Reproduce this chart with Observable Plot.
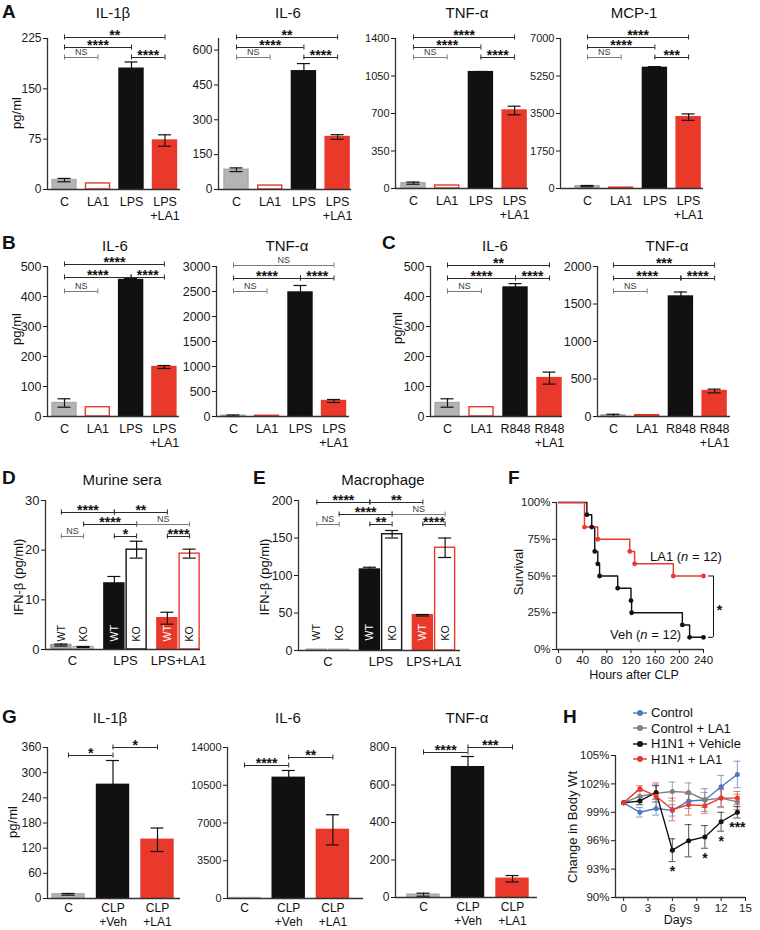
<!DOCTYPE html>
<html><head><meta charset="utf-8">
<script src="https://cdn.jsdelivr.net/npm/d3@7"></script>
<script src="https://cdn.jsdelivr.net/npm/@observablehq/plot@0.6"></script>
<style>
body{margin:0;background:#fff;}
#fig{position:relative;width:760px;height:930px;font-family:"Liberation Sans",Arial,Helvetica,sans-serif;color:#111;overflow:hidden;background:#fff}
.t{position:absolute;white-space:nowrap;transform:translate(-50%,-50%);font-size:15px;}
.yl{position:absolute;white-space:nowrap;transform:translate(-50%,-50%) rotate(-90deg);font-size:13px;}
.lt{position:absolute;white-space:nowrap;transform:translate(0,-50%);font-size:13px;}
.L{position:absolute;font-weight:bold;font-size:19px;transform:translate(0,-50%);}
</style></head><body><div id="fig"></div><script>
// ================= DATA =================
const catsLPS = ["C", "LA1", "LPS", "LPS\n+LA1"];
const catsR848 = ["C", "LA1", "R848", "R848\n+LA1"];
const catsCLP = ["C", "CLP\n+Veh", "CLP\n+LA1"];
const groupsIFN = ["C", "LPS", "LPS+LA1"];
const genotypes = ["WT", "KO"];

// Panel A
const a_il1b = [14, 9, 180, 73], a_il1b_err = [2.5, 0, 10, 8.5], a_il1b_ticks = [0, 75, 150, 225];
const a_il6 = [85, 17, 509, 226], a_il6_err = [8, 0, 33, 10], a_il6_ticks = [0, 150, 300, 450, 600];
const a_tnf = [50, 28, 1086, 728], a_tnf_err = [10, 0, 6, 40], a_tnf_ticks = [0, 350, 700, 1050, 1400];
const a_mcp1 = [110, 40, 5630, 3330], a_mcp1_err = [30, 0, 60, 150], a_mcp1_ticks = [0, 1750, 3500, 5250, 7000];
// Panel B
const b_il6 = [45, 31, 455, 165], b_il6_err = [14, 0, 5, 5], b_il6_ticks = [0, 100, 200, 300, 400, 500];
const b_tnf = [15, 15, 2480, 310], b_tnf_err = [15, 0, 140, 30], b_tnf_ticks = [0, 500, 1000, 1500, 2000, 2500, 3000];
// Panel C
const c_il6 = [45, 31, 430, 128], c_il6_err = [14, 0, 13, 20], c_il6_ticks = [0, 100, 200, 300, 400, 500];
const c_tnf = [15, 18, 1600, 340], c_tnf_err = [15, 0, 60, 25], c_tnf_ticks = [0, 500, 1000, 1500, 2000];
// Panel D (murine sera IFN-β), per group: WT and KO
const d_wt = [0.9, 13.3, 6.3], d_wt_err = [0.2, 1.4, 1.2];
const d_ko = [0.5, 20.1, 19.3], d_ko_err = [0.1, 1.7, 0.9];
const d_ticks = [0, 10, 20, 30];
// Panel E (macrophage IFN-β)
const e_wt = [1, 108, 47], e_wt_err = [0, 3, 1];
const e_ko = [1, 155, 137], e_ko_err = [0, 5, 13];
const e_ticks = [0, 50, 100, 150, 200];
// Panel F (survival)
const f_veh_t = [0, 47, 55, 60, 65, 68, 98, 120, 121, 205, 217, 240];
const f_veh_s = [100, 91.7, 83.3, 66.7, 58.3, 50, 41.7, 33.3, 25, 16.7, 8.3, 8.3];
const f_la1_t = [0, 43, 65, 118, 126, 190, 240];
const f_la1_s = [100, 83.3, 75, 66.7, 58.3, 50, 50];
const f_xticks = [0, 40, 80, 120, 160, 200, 240], f_yticks = [0, 25, 50, 75, 100];
// Panel G
const g_il1b = [10, 271, 140], g_il1b_err = [2, 58, 28], g_il1b_ticks = [0, 60, 120, 180, 240, 300, 360];
const g_il6 = [40, 11190, 6365], g_il6_err = [0, 680, 1400], g_il6_ticks = [0, 3500, 7000, 10500, 14000];
const g_tnf = [15, 695, 100], g_tnf_err = [8, 57, 17], g_tnf_ticks = [0, 200, 400, 600, 800];
// Panel H (body weight)
const h_days = [0, 2, 4, 6, 8, 10, 12, 14];
const h_names = ["Control", "Control + LA1", "H1N1 + Vehicle", "H1N1 + LA1"];
const h_ctrl = [100, 99.0, 99.4, 99.2, 100.2, 100.3, 101.7, 103.0], h_ctrl_err = [0, 0.5, 0.7, 0.6, 0.8, 1.2, 1.2, 1.4];
const h_ctrlLA1 = [100, 100.7, 101.0, 101.2, 101.1, 100.3, 100.5, 100.1], h_ctrlLA1_err = [0, 0.6, 0.9, 1.0, 1.0, 0.8, 1.0, 0.8];
const h_veh = [100, 100.2, 101.1, 95.0, 96.0, 96.4, 98.0, 99.0], h_veh_err = [0, 0.4, 0.7, 1.2, 1.7, 1.2, 1.0, 0.6];
const h_la1 = [100, 101.5, 100.7, 99.3, 99.8, 99.7, 100.5, 100.5], h_la1_err = [0, 0.3, 1.4, 1.2, 1.1, 0.8, 0.9, 0.7];
const h_xticks = [0, 3, 6, 9, 12, 15], h_yticks = [90, 93, 96, 99, 102, 105];
const h_sig = [[6, "*"], [10, "*"], [12, "*"], [14, "***"]];

// significance comparisons: [barA, barB, label, row]
const sig_a_il1b = [[0, 3, "**", 0], [0, 2, "****", 1], [0, 1, "NS", 2], [2, 3, "****", 2]];
const sig_a_il6 = [[0, 3, "**", 0], [0, 2, "****", 1], [0, 1, "NS", 2], [2, 3, "****", 2]];
const sig_a_tnf = [[0, 3, "****", 0], [0, 2, "****", 1], [0, 1, "NS", 2], [2, 3, "****", 2]];
const sig_a_mcp1 = [[0, 3, "****", 0], [0, 2, "****", 1], [0, 1, "NS", 2], [2, 3, "***", 2]];
const sig_b_il6 = [[0, 3, "****", 0], [0, 2, "****", 1], [2, 3, "****", 1], [0, 1, "NS", 2]];
const sig_b_tnf = [[0, 3, "NS", 0], [0, 2, "****", 1], [2, 3, "****", 1], [0, 1, "NS", 2]];
const sig_c_il6 = [[0, 3, "**", 0], [0, 2, "****", 1], [2, 3, "****", 1], [0, 1, "NS", 2]];
const sig_c_tnf = [[0, 3, "***", 0], [0, 2, "****", 1], [2, 3, "****", 1], [0, 1, "NS", 2]];
const sig_d = [[0, 2, "****", 0], [2, 4, "**", 0], [1, 3, "****", 1], [3, 5, "NS", 1], [0, 1, "NS", 2], [2, 3, "*", 2], [4, 5, "****", 2]];
const sig_e = [[0, 2, "****", 0], [2, 4, "**", 0], [1, 3, "****", 1], [3, 5, "NS", 1], [0, 1, "NS", 2], [2, 3, "**", 2], [4, 5, "****", 2]];
const sig_g_il1b = [[1, 2, "*", 0], [0, 1, "*", 1]];
const sig_g_il6 = [[1, 2, "**", 0], [0, 1, "****", 1]];
const sig_g_tnf = [[1, 2, "***", 0], [0, 1, "****", 1]];

// ================= STYLE / LAYOUT =================
const FONT = '"Liberation Sans", Arial, Helvetica, sans-serif';
const RED = "#e8392b", GRAY = "#b4b4b4", BLACK = "#111111", BLUE = "#4a7bc4", DGRAY = "#808080";
const styleLPS = [{fill: GRAY, stroke: "#a8a8a8"}, {fill: "#ffffff", stroke: RED}, {fill: BLACK, stroke: BLACK}, {fill: RED, stroke: RED}];
const styleCLP = [{fill: GRAY, stroke: "#a8a8a8"}, {fill: BLACK, stroke: BLACK}, {fill: RED, stroke: RED}];
const styleIFN = [
  [{fill: "#a9a9a9", stroke: "#999", lc: "#111"}, {fill: "#dcdcdc", stroke: "#aaa", lc: "#111"}],
  [{fill: BLACK, stroke: BLACK, lc: "#fff"}, {fill: "#fff", stroke: BLACK, lc: "#111"}],
  [{fill: RED, stroke: RED, lc: "#fff"}, {fill: "#fff", stroke: RED, lc: "#111"}]
];
const LAY = {
  a1: {axis: 47, x0: 64, step: 33.5, end: 180, top: 38, bottom: 189, bw: 24, rows: [37, 47, 57]},
  a2: {axis: 218, x0: 236, step: 33.7, end: 351, top: 38, bottom: 189, bw: 24, rows: [37, 47, 57]},
  a3: {axis: 395, x0: 413, step: 33.7, end: 528, top: 38, bottom: 188, bw: 24, rows: [37, 47, 57]},
  a4: {axis: 560, x0: 587, step: 33.7, end: 703, top: 38, bottom: 188, bw: 24, rows: [37, 47, 57]},
  b1: {axis: 47, x0: 64, step: 33.3, end: 179, top: 266, bottom: 416, bw: 24, rows: [264, 277, 291]},
  b2: {axis: 216, x0: 233, step: 33.5, end: 349, top: 266, bottom: 416, bw: 24, rows: [265, 278, 291]},
  c1: {axis: 430, x0: 447, step: 34, end: 562, top: 266, bottom: 416, bw: 24, rows: [265, 278, 291]},
  c2: {axis: 597, x0: 613, step: 33.7, end: 730, top: 266, bottom: 416, bw: 24, rows: [265, 278, 291]},
  d: {axis: 45, x0: 72, step: 53, end: 200, top: 500, bottom: 649, bw: 20, rows: [512, 524, 536]},
  e: {axis: 298, x0: 327.5, step: 53, end: 460, top: 500, bottom: 650, bw: 20, rows: [502, 514, 524]},
  g1: {axis: 47, x0: 68, step: 44.5, end: 180, top: 747, bottom: 898, bw: 32, rows: [747, 755]},
  g2: {axis: 227, x0: 244, step: 44.2, end: 363, top: 747, bottom: 898, bw: 32, rows: [757, 765]},
  g3: {axis: 395, x0: 423, step: 44.5, end: 537, top: 747, bottom: 897, bw: 32, rows: [747, 752]}
};

const fig = document.getElementById("fig");
function html(cls, txt, x, y, size) {
  const d = document.createElement("div");
  d.className = cls; d.style.left = x + "px"; d.style.top = y + "px";
  if (size) d.style.fontSize = size + "px";
  d.innerHTML = txt; fig.append(d);
}
function place(svg, left, top) {
  svg.style.position = "absolute"; svg.style.left = left + "px"; svg.style.top = top + "px";
  fig.append(svg);
}
const baseStyle = fs => ({background: "transparent", fontFamily: FONT, fontSize: fs + "px", color: "#1a1a1a", overflow: "visible"});

function barChart({L, ymax, ticks, bars, xlabels, sig, fs = 12, lfs = 12.5, ldy = 6, lh = 1.15, extra = () => []}) {
  const mL = 50, mR = 20, mT = 50, mB = 32;
  const plotW = L.end - L.axis, plotH = L.bottom - L.top;
  const xa = (L.axis - L.x0) / L.step, xb = (L.end - L.x0) / L.step;
  const hw = L.bw / 2 / L.step, cw = 6.5 / L.step;
  const ypp = ymax / plotH;
  const br = sig.map(([a, b, t, r]) => ({x1: bars[a].x, x2: bars[b].x, y: (L.bottom - L.rows[r]) * ypp, t, ns: t === "NS"}));
  const ends = br.flatMap(d => [{x: d.x1, y: d.y, ns: d.ns}, {x: d.x2, y: d.y, ns: d.ns}]);
  const tk = 2.5 * ypp;
  const eb = bars.filter(d => d.e > 0);
  const svg = Plot.plot({
    width: plotW + mL + mR, height: plotH + mT + mB,
    marginLeft: mL, marginRight: mR, marginTop: mT, marginBottom: mB,
    style: baseStyle(fs),
    x: {domain: [xa, xb], axis: null},
    y: {domain: [0, ymax], ticks, tickSize: 4, tickPadding: 2, tickFormat: d => String(d), label: null},
    color: {type: "identity"},
    marks: [
      Plot.rect(bars, {x1: d => d.x - hw, x2: d => d.x + hw, y1: () => 0, y2: "v", fill: "fill", stroke: "stroke", strokeWidth: 1.4}),
      Plot.ruleX(eb, {x: "x", y1: d => d.v - d.e, y2: d => d.v + d.e, stroke: "#111", strokeWidth: 1.2}),
      Plot.ruleY(eb, {y: d => d.v + d.e, x1: d => d.x - cw, x2: d => d.x + cw, stroke: "#111", strokeWidth: 1.2}),
      Plot.ruleY(eb, {y: d => d.v - d.e, x1: d => d.x - cw, x2: d => d.x + cw, stroke: "#111", strokeWidth: 1.2}),
      Plot.ruleX([xa], {stroke: "#333", strokeWidth: 1.3}),
      Plot.ruleY([0], {stroke: "#333", strokeWidth: 1.3}),
      Plot.ruleY(br, {y: "y", x1: "x1", x2: "x2", stroke: d => d.ns ? "#7a7a7a" : "#2a2a2a", strokeWidth: 1}),
      Plot.ruleX(ends, {x: "x", y1: d => d.y - tk, y2: d => d.y + tk, stroke: d => d.ns ? "#7a7a7a" : "#2a2a2a", strokeWidth: 1}),
      Plot.text(br.filter(d => !d.ns), {x: d => (d.x1 + d.x2) / 2, y: "y", text: "t", fontSize: 14, fontWeight: "bold", lineAnchor: "middle", dy: -1.5, fill: "#111"}),
      Plot.text(br.filter(d => d.ns), {x: d => (d.x1 + d.x2) / 2, y: "y", text: "t", fontSize: 9, lineAnchor: "middle", dy: -5.5, fill: "#3a3a3a"}),
      Plot.text(xlabels, {x: "x", y: () => 0, text: "t", lineAnchor: "top", dy: ldy, fontSize: lfs, lineHeight: lh, fill: "#111"}),
      ...extra(ypp)
    ]
  });
  place(svg, L.axis - mL, L.top - mT);
}

function simpleBars(vals, errs, styles) {
  return vals.map((v, i) => ({x: i, v, e: errs[i], fill: styles[i].fill, stroke: styles[i].stroke}));
}
function catLabels(cats) { return cats.map((t, i) => ({x: i, t})); }
function ifnBars(wt, wtE, ko, koE) {
  const out = [];
  groupsIFN.forEach((g, gi) => {
    [[wt, wtE], [ko, koE]].forEach(([vals, errs], k) => {
      const s = styleIFN[gi][k];
      out.push({x: gi + (k === 0 ? -0.21 : 0.21), v: vals[gi], e: errs[gi], fill: s.fill, stroke: s.stroke, lab: genotypes[k], lc: s.lc});
    });
  });
  return out;
}

// ---------- Panel A ----------
barChart({L: LAY.a1, ymax: 225, ticks: a_il1b_ticks, bars: simpleBars(a_il1b, a_il1b_err, styleLPS), xlabels: catLabels(catsLPS), sig: sig_a_il1b});
barChart({L: LAY.a2, ymax: 650, ticks: a_il6_ticks, bars: simpleBars(a_il6, a_il6_err, styleLPS), xlabels: catLabels(catsLPS), sig: sig_a_il6});
barChart({L: LAY.a3, ymax: 1400, ticks: a_tnf_ticks, bars: simpleBars(a_tnf, a_tnf_err, styleLPS), xlabels: catLabels(catsLPS), sig: sig_a_tnf, fs: 11});
barChart({L: LAY.a4, ymax: 7000, ticks: a_mcp1_ticks, bars: simpleBars(a_mcp1, a_mcp1_err, styleLPS), xlabels: catLabels(catsLPS), sig: sig_a_mcp1, fs: 11});
// ---------- Panel B ----------
barChart({L: LAY.b1, ymax: 500, ticks: b_il6_ticks, bars: simpleBars(b_il6, b_il6_err, styleLPS), xlabels: catLabels(catsLPS), sig: sig_b_il6, fs: 12.5});
barChart({L: LAY.b2, ymax: 3000, ticks: b_tnf_ticks, bars: simpleBars(b_tnf, b_tnf_err, styleLPS), xlabels: catLabels(catsLPS), sig: sig_b_tnf, fs: 12.5});
// ---------- Panel C ----------
barChart({L: LAY.c1, ymax: 500, ticks: c_il6_ticks, bars: simpleBars(c_il6, c_il6_err, styleLPS), xlabels: catLabels(catsR848), sig: sig_c_il6, fs: 12.5});
barChart({L: LAY.c2, ymax: 2000, ticks: c_tnf_ticks, bars: simpleBars(c_tnf, c_tnf_err, styleLPS), xlabels: catLabels(catsR848), sig: sig_c_tnf, fs: 12.5});
// ---------- Panels D, E ----------
const wtkoMarks = dyPx => bars => () => [
  Plot.text(bars, {x: "x", y: () => 0, text: "lab", rotate: -90, textAnchor: "start", lineAnchor: "middle", dy: dyPx, fontSize: 10.5, fill: "lc"})
];
const dBars = ifnBars(d_wt, d_wt_err, d_ko, d_ko_err);
barChart({L: LAY.d, ymax: 30, ticks: d_ticks, bars: dBars, xlabels: catLabels(groupsIFN), sig: sig_d, fs: 13, lfs: 13, ldy: 5, extra: wtkoMarks(-8)(dBars)});
const eBars = ifnBars(e_wt, e_wt_err, e_ko, e_ko_err);
barChart({L: LAY.e, ymax: 200, ticks: e_ticks, bars: eBars, xlabels: catLabels(groupsIFN), sig: sig_e, fs: 12.5, lfs: 13, ldy: 5, extra: wtkoMarks(-10)(eBars)});
// ---------- Panel G ----------
barChart({L: LAY.g1, ymax: 360, ticks: g_il1b_ticks, bars: simpleBars(g_il1b, g_il1b_err, styleCLP), xlabels: catLabels(catsCLP), sig: sig_g_il1b, lfs: 12, ldy: 4.5, lh: 1.1});
barChart({L: LAY.g2, ymax: 14000, ticks: g_il6_ticks, bars: simpleBars(g_il6, g_il6_err, styleCLP), xlabels: catLabels(catsCLP), sig: sig_g_il6, fs: 11, lfs: 12, ldy: 4.5, lh: 1.1});
barChart({L: LAY.g3, ymax: 800, ticks: g_tnf_ticks, bars: simpleBars(g_tnf, g_tnf_err, styleCLP), xlabels: catLabels(catsCLP), sig: sig_g_tnf, lfs: 12, ldy: 4.5, lh: 1.1});

// ---------- Panel F (Kaplan-Meier) ----------
(function () {
  const L = {axis: 556, end: 703, top: 502, bottom: 649};
  const xa = -3.3, xb = 240;
  const mL = 50, mR = 40, mT = 10, mB = 26;
  const xpp = (xb - xa) / (L.end - L.axis);
  const pts = [
    ...f_veh_t.map((t, i) => ({t, s: f_veh_s[i], g: "Veh", c: BLACK})),
    ...f_la1_t.map((t, i) => ({t, s: f_la1_s[i], g: "LA1", c: RED}))
  ];
  const endVeh = f_veh_s[f_veh_s.length - 1], endLA1 = f_la1_s[f_la1_s.length - 1];
  const tMax = f_veh_t[f_veh_t.length - 1];
  const bx = tMax + 10 * xpp, bt = tMax + 5 * xpp;
  const svg = Plot.plot({
    width: L.end - L.axis + mL + mR, height: L.bottom - L.top + mT + mB,
    marginLeft: mL, marginRight: mR, marginTop: mT, marginBottom: mB,
    style: baseStyle(11.5),
    x: {domain: [xa, xb], ticks: f_xticks, tickSize: 4, tickPadding: 2, label: null},
    y: {domain: [0, 100], ticks: f_yticks, tickSize: 4, tickPadding: 2, tickFormat: d => d + "%", label: null},
    color: {type: "identity"},
    marks: [
      Plot.ruleX([xa], {stroke: "#333", strokeWidth: 1.3}),
      Plot.ruleY([0], {stroke: "#333", strokeWidth: 1.3}),
      Plot.line(pts, {x: "t", y: "s", z: "g", stroke: "c", curve: "step-after", strokeWidth: 1.4}),
      Plot.dot(pts.filter(d => d.t > 0), {x: "t", y: "s", fill: "c", r: 2.4}),
      Plot.ruleX([bx], {y1: () => endVeh, y2: () => endLA1, stroke: "#111", strokeWidth: 1}),
      Plot.ruleY([endVeh, endLA1], {y: d => d, x1: () => bt, x2: () => bx, stroke: "#111", strokeWidth: 1}),
      Plot.text(["*"], {x: () => tMax + 16 * xpp, y: () => (endVeh + endLA1) / 2, text: d => d, fontSize: 14, fontWeight: "bold", lineAnchor: "middle", dy: 4, fill: "#111"})
    ]
  });
  place(svg, L.axis - mL, L.top - mT);
})();

// ---------- Panel H (body weight) ----------
(function () {
  const L = {axis: 615, end: 745, top: 755, bottom: 897};
  const xa = -1, xb = 15;
  const mL = 50, mR = 14, mT = 10, mB = 22;
  const xpp = (xb - xa) / (L.end - L.axis);
  const cw = 3.5 * xpp;
  const vals = [h_ctrl, h_ctrlLA1, h_veh, h_la1], errs = [h_ctrl_err, h_ctrlLA1_err, h_veh_err, h_la1_err];
  const cols = [BLUE, DGRAY, BLACK, RED];
  const pts = h_names.flatMap((g, si) => h_days.map((d, i) => ({d, v: vals[si][i], e: errs[si][i], g, c: cols[si]})));
  const eb = pts.filter(p => p.e > 0);
  const stars = h_sig.map(([day, t]) => { const i = h_days.indexOf(day); return {d: day, y: h_veh[i] - h_veh_err[i], t}; });
  const svg = Plot.plot({
    width: L.end - L.axis + mL + mR, height: L.bottom - L.top + mT + mB,
    marginLeft: mL, marginRight: mR, marginTop: mT, marginBottom: mB,
    style: baseStyle(11.5),
    x: {domain: [xa, xb], ticks: h_xticks, tickSize: 4, tickPadding: 2, label: null},
    y: {domain: [90, 105], ticks: h_yticks, tickSize: 4, tickPadding: 2, tickFormat: d => d + "%", label: null},
    color: {type: "identity"},
    marks: [
      Plot.ruleX([xa], {stroke: "#333", strokeWidth: 1.3}),
      Plot.ruleY([90], {stroke: "#333", strokeWidth: 1.3}),
      Plot.ruleX(eb, {x: "d", y1: p => p.v - p.e, y2: p => p.v + p.e, stroke: "c", strokeOpacity: 0.65, strokeWidth: 1.1}),
      Plot.ruleY(eb, {y: p => p.v + p.e, x1: p => p.d - cw, x2: p => p.d + cw, stroke: "c", strokeOpacity: 0.65, strokeWidth: 1.1}),
      Plot.ruleY(eb, {y: p => p.v - p.e, x1: p => p.d - cw, x2: p => p.d + cw, stroke: "c", strokeOpacity: 0.65, strokeWidth: 1.1}),
      Plot.line(pts, {x: "d", y: "v", z: "g", stroke: "c", strokeWidth: 1.4}),
      Plot.dot(pts, {x: "d", y: "v", fill: "c", r: 2.5}),
      Plot.text(stars, {x: "d", y: "y", text: "t", fontSize: 14, fontWeight: "bold", lineAnchor: "middle", dy: 10, fill: "#111"})
    ]
  });
  place(svg, L.axis - mL, L.top - mT);
  // legend
  const lg = document.createElement("div");
  lg.style.cssText = "position:absolute;left:632px;top:705px;font-size:13px;line-height:15.5px;";
  lg.innerHTML = h_names.map((n, i) =>
    `<div style="display:flex;align-items:center;height:15.5px"><svg width="16" height="10" style="margin-right:3px"><line x1="1" y1="5" x2="15" y2="5" stroke="${cols[i]}" stroke-width="1.4"/><circle cx="8" cy="5" r="3" fill="${cols[i]}"/></svg><span>${n}</span></div>`).join("");
  fig.append(lg);
})();

// ---------- Text: panel letters, titles, axis labels ----------
[["A", 2, 12], ["B", 2, 243], ["C", 382, 243], ["D", 2, 478], ["E", 253, 478], ["F", 508, 478], ["G", 2, 717], ["H", 563, 717]]
  .forEach(([t, x, y]) => html("L", t, x, y));
[["IL-1β", 113, 12], ["IL-6", 288, 12], ["TNF-α", 467, 12], ["MCP-1", 634, 12],
 ["IL-6", 115, 245], ["TNF-α", 287, 245], ["IL-6", 495, 245], ["TNF-α", 667, 245],
 ["Murine sera", 122, 479], ["Macrophage", 383, 479],
 ["IL-1β", 110, 717], ["IL-6", 288, 717], ["TNF-α", 467, 717]]
  .forEach(([t, x, y]) => html("t", t, x, y));
[["pg/ml", 16, 113], ["pg/ml", 16, 329], ["pg/ml", 397, 328], ["IFN-β (pg/ml)", 18, 577], ["IFN-β (pg/ml)", 264, 577],
 ["Survival", 518, 572], ["pg/ml", 12, 822], ["Change in Body Wt", 572, 827]]
  .forEach(([t, x, y]) => html("yl", t, x, y));
html("t", "Hours after CLP", 634, 675, 12.5);
html("t", "Days", 678, 920, 12.5);
html("lt", "LA1 (<i>n</i> = 12)", 650, 556, 13);
html("lt", "Veh (<i>n</i> = 12)", 610, 634, 13);
</script></body></html>
